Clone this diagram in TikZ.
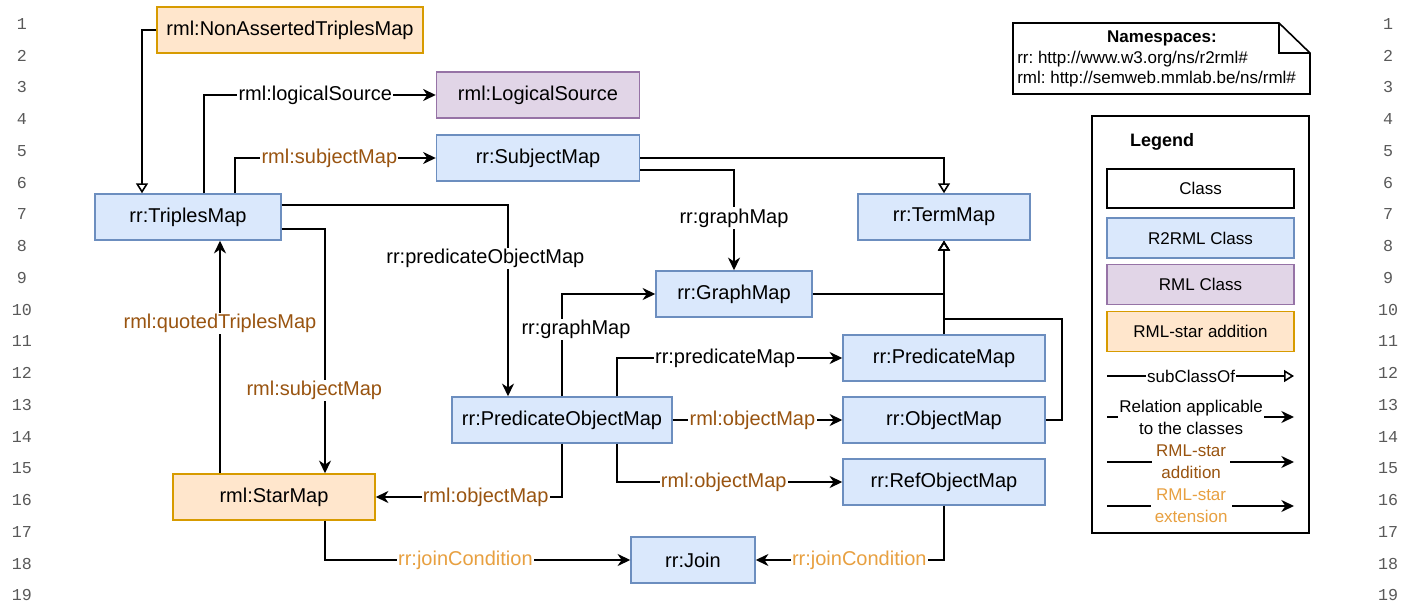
\documentclass[tikz,border=0pt]{standalone}
\usepackage{fontspec}
\setmainfont{Liberation Sans}
\newfontfamily\linenofont{Liberation Mono}
\usetikzlibrary{arrows.meta,calc}
\frenchspacing
\definecolor{rrfill}{HTML}{DAE8FC}
\definecolor{rrline}{HTML}{6C8EBF}
\definecolor{rmlfill}{HTML}{E1D5E7}
\definecolor{rmlline}{HTML}{9673A6}
\definecolor{starfill}{HTML}{FFE6CC}
\definecolor{starline}{HTML}{D79B00}
\definecolor{addtext}{HTML}{995410}
\definecolor{exttext}{HTML}{E8A040}
\tikzset{
  cls/.style={draw, line width=1.1pt, minimum height=34.5pt, inner sep=2pt,
    font=\fontsize{15}{18}\selectfont},
  rrcls/.style={cls, draw=rrline, fill=rrfill},
  rmlcls/.style={cls, draw=rmlline, fill=rmlfill},
  starcls/.style={cls, draw=starline, fill=starfill},
  wd/.style={minimum width=#1*0.75pt},
  relarr/.style={line width=1.2pt, -{Stealth[length=9.5pt,width=9pt,inset=3pt]}},
  subcls/.style={line width=1.2pt, -{Triangle[open,length=7.5pt,width=9pt]}},
  lbl/.style={fill=white, inner sep=1pt, font=\fontsize{15}{18}\selectfont},
  addlbl/.style={lbl, text=addtext},
  extlbl/.style={lbl, text=exttext},
  small/.style={font=\fontsize{12.75}{16.5}\selectfont},
  lineno/.style={text=black!65, font=\linenofont\fontsize{12.5}{14}\selectfont},
}
\begin{document}
\begin{tikzpicture}[x=0.75pt, y=-0.75pt]
  \useasboundingbox (0,0) rectangle (1413,605);
  % line numbers
  \foreach \n in {1,...,19} {
    \node[lineno] (ll\n) at (22, {24+(\n-1)*31.75}) {\n};
    \node[lineno] (rl\n) at (1388, {24+(\n-1)*31.75}) {\n};
  }
  % classes
  \node[starcls, wd=266] (nonasserted) at (290,30) {rml:NonAssertedTriplesMap};
  \node[rmlcls, wd=203] (logical) at (538,95) {rml:LogicalSource};
  \node[rrcls, wd=203] (subject) at (538,158) {rr:SubjectMap};
  \node[rrcls, wd=186] (triples) at (188,217) {rr:TriplesMap};
  \node[rrcls, wd=172] (termmap) at (944,217) {rr:TermMap};
  \node[rrcls, wd=156] (graphmap) at (734,294) {rr:GraphMap};
  \node[rrcls, wd=202] (predmap) at (944,358) {rr:PredicateMap};
  \node[rrcls, wd=220] (pom) at (562,420) {rr:PredicateObjectMap};
  \node[rrcls, wd=202] (objmap) at (944,420) {rr:ObjectMap};
  \node[rrcls, wd=202] (refobj) at (944,482) {rr:RefObjectMap};
  \node[starcls, wd=202] (star) at (274,497) {rml:StarMap};
  \node[rrcls, wd=124] (join) at (693,560) {rr:Join};
  % relations
  \begin{scope}
    \draw[subcls] (nonasserted.west) -| ($(triples.north)+(-46,0)$);
    \draw[relarr] ($(triples.north)+(16,0)$) |- node[lbl, pos=0.74] {rml:logicalSource} (logical.west);
    \draw[relarr] ($(triples.north)+(47,0)$) |- node[addlbl, pos=0.735] {rml:subjectMap} (subject.west);
    \draw[subcls] (subject.east) -| (termmap.north);
    \draw[relarr] ($(subject.east)+(0,12)$) -| node[lbl, pos=0.74] {rr:graphMap} (graphmap.north);
    \draw[relarr] ($(triples.east)+(0,-12)$) -| node[lbl, pos=0.64, xshift=-17pt] {rr:predicateObjectMap} ($(pom.north)+(-54,0)$);
    \draw[relarr] ($(triples.east)+(0,12)$) -| node[addlbl, pos=0.83, xshift=-8pt] {rml:subjectMap} ($(star.north)+(51,0)$);
    \draw[relarr] ($(star.north)+(-54,0)$) -- node[addlbl, pos=0.645] {rml:quotedTriplesMap} ($(triples.south)+(32,0)$);
    \draw[relarr] (pom.north) |- node[lbl, pos=0.325, xshift=10.5pt] {rr:graphMap} (graphmap.west);
    \draw[relarr] ($(pom.north)+(55,0)$) |- node[lbl, pos=0.74] {rr:predicateMap} (predmap.west);
    \draw[relarr] (pom.east) -- node[addlbl, pos=0.47] {rml:objectMap} (objmap.west);
    \draw[relarr] ($(pom.south)+(55,0)$) |- node[addlbl, pos=0.737] {rml:objectMap} (refobj.west);
    \draw[relarr] (pom.south) |- node[addlbl, pos=0.705] {rml:objectMap} (star.east);
    \draw[relarr] ($(star.south)+(51,0)$) |- node[extlbl, pos=0.73] {rr:joinCondition} (join.west);
    \draw[relarr] (refobj.south) |- node[extlbl, pos=0.725] {rr:joinCondition} (join.east);
    \draw[subcls] (graphmap.east) -| (termmap.south);
    \draw[subcls] (predmap.north) -- (termmap.south);
    \draw[subcls] (objmap.east) -- ++(16,0) |- ($(termmap.south)+(0,78)$) -- (termmap.south);
  \end{scope}
  % namespaces note
  \draw[line width=1.2pt] (1013,23) -- (1279,23) -- (1310,53) -- (1310,94) -- (1013,94) -- cycle;
  \draw[line width=1.2pt] (1279,23) -- (1279,53) -- (1310,53);
  \node[small, font=\bfseries\fontsize{12.75}{16.5}\selectfont] (nstitle) at (1162,38) {Namespaces:};
  \node[small, anchor=west, inner sep=0pt] (nsrr) at (1017,59) {rr: http://www.w3.org/ns/r2rml\#};
  \node[small, anchor=west, inner sep=0pt] (nsrml) at (1017,79) {rml: http://semweb.mmlab.be/ns/rml\#};
  % legend
  \node[draw, line width=1.2pt, minimum width=217*0.75pt, minimum height=417*0.75pt] (legend) at (1200.5,324.5) {};
  \node[font=\bfseries\fontsize{13.5}{16}\selectfont] (legendtitle) at (1162,142) {Legend};
  \node[cls, small, draw=black, fill=white, wd=187, minimum height=29.25pt] (kclass) at (1200.5,188.5) {Class};
  \node[rrcls, small, wd=187, minimum height=30pt] (krr) at (1200.5,238) {R2RML Class};
  \node[rmlcls, small, wd=187, minimum height=30pt] (krml) at (1200.5,284.5) {RML Class};
  \node[starcls, small, wd=187, minimum height=30pt] (kstar) at (1200.5,331.5) {RML-star addition};
  \coordinate (ka1) at (1107,376); \coordinate (kb1) at (1294,376);
  \coordinate (ka2) at (1107,417); \coordinate (kb2) at (1294,417);
  \coordinate (ka3) at (1107,462); \coordinate (kb3) at (1294,462);
  \coordinate (ka4) at (1107,506); \coordinate (kb4) at (1294,506);
  \draw[subcls] (ka1) -- node[lbl, small, pos=0.45] {subClassOf} (kb1);
  \draw[relarr] (ka2) -- node[lbl, small, pos=0.45, align=center] {Relation applicable\\to the classes} (kb2);
  \draw[relarr] (ka3) -- node[addlbl, small, pos=0.45, align=center, inner sep=3pt] {RML-star\\addition} (kb3);
  \draw[relarr] (ka4) -- node[extlbl, small, pos=0.45, align=center, inner sep=3pt] {RML-star\\extension} (kb4);
\end{tikzpicture}
\end{document}
